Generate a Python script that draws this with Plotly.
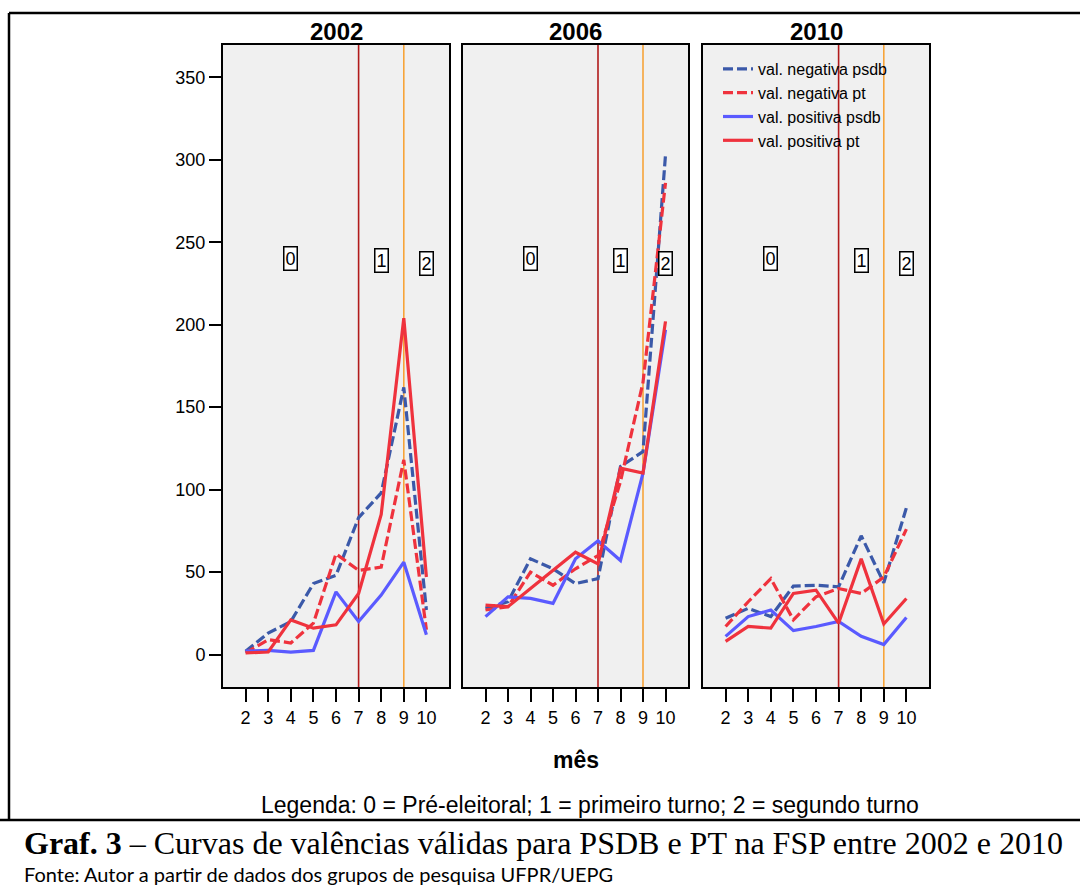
import plotly.graph_objects as go

# ---------------- data ----------------
months = [2, 3, 4, 5, 6, 7, 8, 9, 10]
years = ["2002", "2006", "2010"]

neg_psdb_2002 = [2, 13, 20, 43, 48, 83, 98, 162, 27]
neg_pt_2002 = [1, 9, 7, 19, 61, 51, 53, 118, 15]
pos_psdb_2002 = [2, 2.5, 1.5, 2.5, 38, 20, 36, 56, 12]
pos_pt_2002 = [1, 1.5, 21, 16, 18, 37, 85, 204, 47]

neg_psdb_2006 = [28, 32, 58, 52, 43, 46, 114, 123, 303]
neg_pt_2006 = [27, 29, 50, 42, 52, 60, 105, 165, 286]
pos_psdb_2006 = [23, 35, 34, 31, 58, 69, 57, 110, 197]
pos_pt_2006 = [30, 29, 40, 51, 62, 55, 113, 110, 202]

neg_psdb_2010 = [22, 28, 23, 41.5, 42, 41, 72, 43.5, 89]
neg_pt_2010 = [17, 32, 46, 21, 35, 40, 37, 47, 76]
pos_psdb_2010 = [11, 23, 27, 14.5, 17, 20, 11, 6, 22.5]
pos_pt_2010 = [8, 17, 16, 37, 39, 19, 58, 18.5, 34]

series_names = ["val. negativa psdb", "val. negativa pt", "val. positiva psdb", "val. positiva pt"]
period_labels = ["0", "1", "2"]
period_x = [4, 8, 10]
period_y = [240, 239, 237]
turn_lines = [7, 9]
y_ticks = [0, 50, 100, 150, 200, 250, 300, 350]

data_by_year = {
    "2002": [neg_psdb_2002, neg_pt_2002, pos_psdb_2002, pos_pt_2002],
    "2006": [neg_psdb_2006, neg_pt_2006, pos_psdb_2006, pos_pt_2006],
    "2010": [neg_psdb_2010, neg_pt_2010, pos_psdb_2010, pos_pt_2010],
}

# ---------------- styles ----------------
W, H = 1080, 888
styles = [
    dict(color="#3B59A9", dash="10px,4px"),
    dict(color="#EF323D", dash="10px,4px"),
    dict(color="#5A5AFF", dash="solid"),
    dict(color="#EF323D", dash="solid"),
]
turn_colors = ["#B11B1B", "#F7A43A"]
panel_px = [(223, 449), (463, 688), (703, 929)]
top_px, bot_px = 45, 687

def px2x(p):
    return p / W

def py2y(p):
    return 1 - p / H

fig = go.Figure()
font_fam = "Liberation Sans, Arial, sans-serif"

for i, yr in enumerate(years):
    ax = "" if i == 0 else str(i + 1)
    for j, vals in enumerate(data_by_year[yr]):
        fig.add_trace(go.Scatter(
            x=months, y=vals, mode="lines", name=series_names[j],
            line=dict(color=styles[j]["color"], dash=styles[j]["dash"], width=3.2),
            xaxis="x" + ax, yaxis="y" + ax, showlegend=(i == 0),
        ))
    xa = dict(
        domain=[px2x(panel_px[i][0]), px2x(panel_px[i][1])],
        range=[1, 11], tickvals=months, ticks="outside", ticklen=13, tickwidth=2,
        tickcolor="black", showgrid=False, zeroline=False, showline=True, linecolor="black",
        linewidth=2, mirror=True, anchor="y" + ax,
        tickfont=dict(family=font_fam, size=18, color="black"),
    )
    ya = dict(
        domain=[py2y(bot_px), py2y(top_px)], range=[-19.7, 369.6],
        tickvals=y_ticks, ticks="outside" if i == 0 else "", ticklen=12, tickwidth=2,
        tickcolor="black", showticklabels=(i == 0), showgrid=False, zeroline=False,
        showline=True, linecolor="black", linewidth=2, mirror=True, anchor="x" + ax,
        tickfont=dict(family=font_fam, size=18, color="black"),
    )
    if i > 0:
        ya["matches"] = "y"
    fig.update_layout(**{"xaxis" + ax: xa, "yaxis" + ax: ya})

    # phase lines
    for k, xv in enumerate(turn_lines):
        fig.add_shape(type="line", xref="x" + ax, yref="y" + ax + " domain",
                      x0=xv, x1=xv, y0=0, y1=1,
                      line=dict(color=turn_colors[k], width=1.6), layer="below")
    # period labels
    for lab, xv, yv in zip(period_labels, period_x, period_y):
        fig.add_annotation(x=xv, y=yv, xref="x" + ax, yref="y" + ax, text=lab,
                           showarrow=False, bgcolor="white", bordercolor="black",
                           borderwidth=1.5, borderpad=1,
                           font=dict(family=font_fam, size=18, color="black"))
    # panel title
    fig.add_annotation(x=px2x((panel_px[i][0] + panel_px[i][1]) / 2), y=py2y(31),
                       xref="paper", yref="paper", text="<b>%s</b>" % yr, showarrow=False,
                       font=dict(family=font_fam, size=24, color="black"),
                       xanchor="center", yanchor="middle")

# axis title & legend text
fig.add_annotation(x=px2x(576), y=py2y(760), xref="paper", yref="paper", text="<b>mês</b>",
                   xanchor="center", yanchor="middle",
                   showarrow=False, font=dict(family=font_fam, size=23, color="black"))
fig.add_annotation(x=px2x(590), y=py2y(805), xref="paper", yref="paper",
                   xanchor="center", yanchor="middle",
                   text="Legenda: 0 = Pré-eleitoral; 1 = primeiro turno; 2 = segundo turno",
                   showarrow=False, font=dict(family=font_fam, size=23, color="black"))
fig.add_annotation(x=px2x(22), y=py2y(843), xref="paper", yref="paper",
                   xanchor="left", yanchor="middle",
                   text="<b>Graf. 3</b> – Curvas de valências válidas para PSDB e PT na FSP entre 2002 e 2010",
                   showarrow=False, font=dict(family="Liberation Serif, Times New Roman, serif", size=32, color="black"))
fig.add_annotation(x=px2x(22), y=py2y(874), xref="paper", yref="paper",
                   xanchor="left", yanchor="middle",
                   text="Fonte: Autor a partir de dados dos grupos de pesquisa UFPR/UEPG",
                   showarrow=False, font=dict(family="Lato, Open Sans, sans-serif", size=20, color="black"))

# frame
for (x0, y0, x1, y1) in [(9, 13, W, 13), (9, 13, 9, 820), (0, 820, W, 820)]:
    fig.add_shape(type="line", xref="paper", yref="paper",
                  x0=px2x(x0), y0=py2y(y0), x1=px2x(x1), y1=py2y(y1),
                  line=dict(color="black", width=2.5))

fig.update_layout(
    width=W, height=H, margin=dict(l=0, r=0, t=0, b=0),
    paper_bgcolor="white", plot_bgcolor="#F0F0F0",
    showlegend=True,
    legend=dict(x=px2x(718), y=py2y(52), xanchor="left", yanchor="top",
                bgcolor="rgba(0,0,0,0)", borderwidth=0, tracegroupgap=0,
                font=dict(family=font_fam, size=16, color="black"), itemwidth=30),
)

fig.write_html("out.html")
